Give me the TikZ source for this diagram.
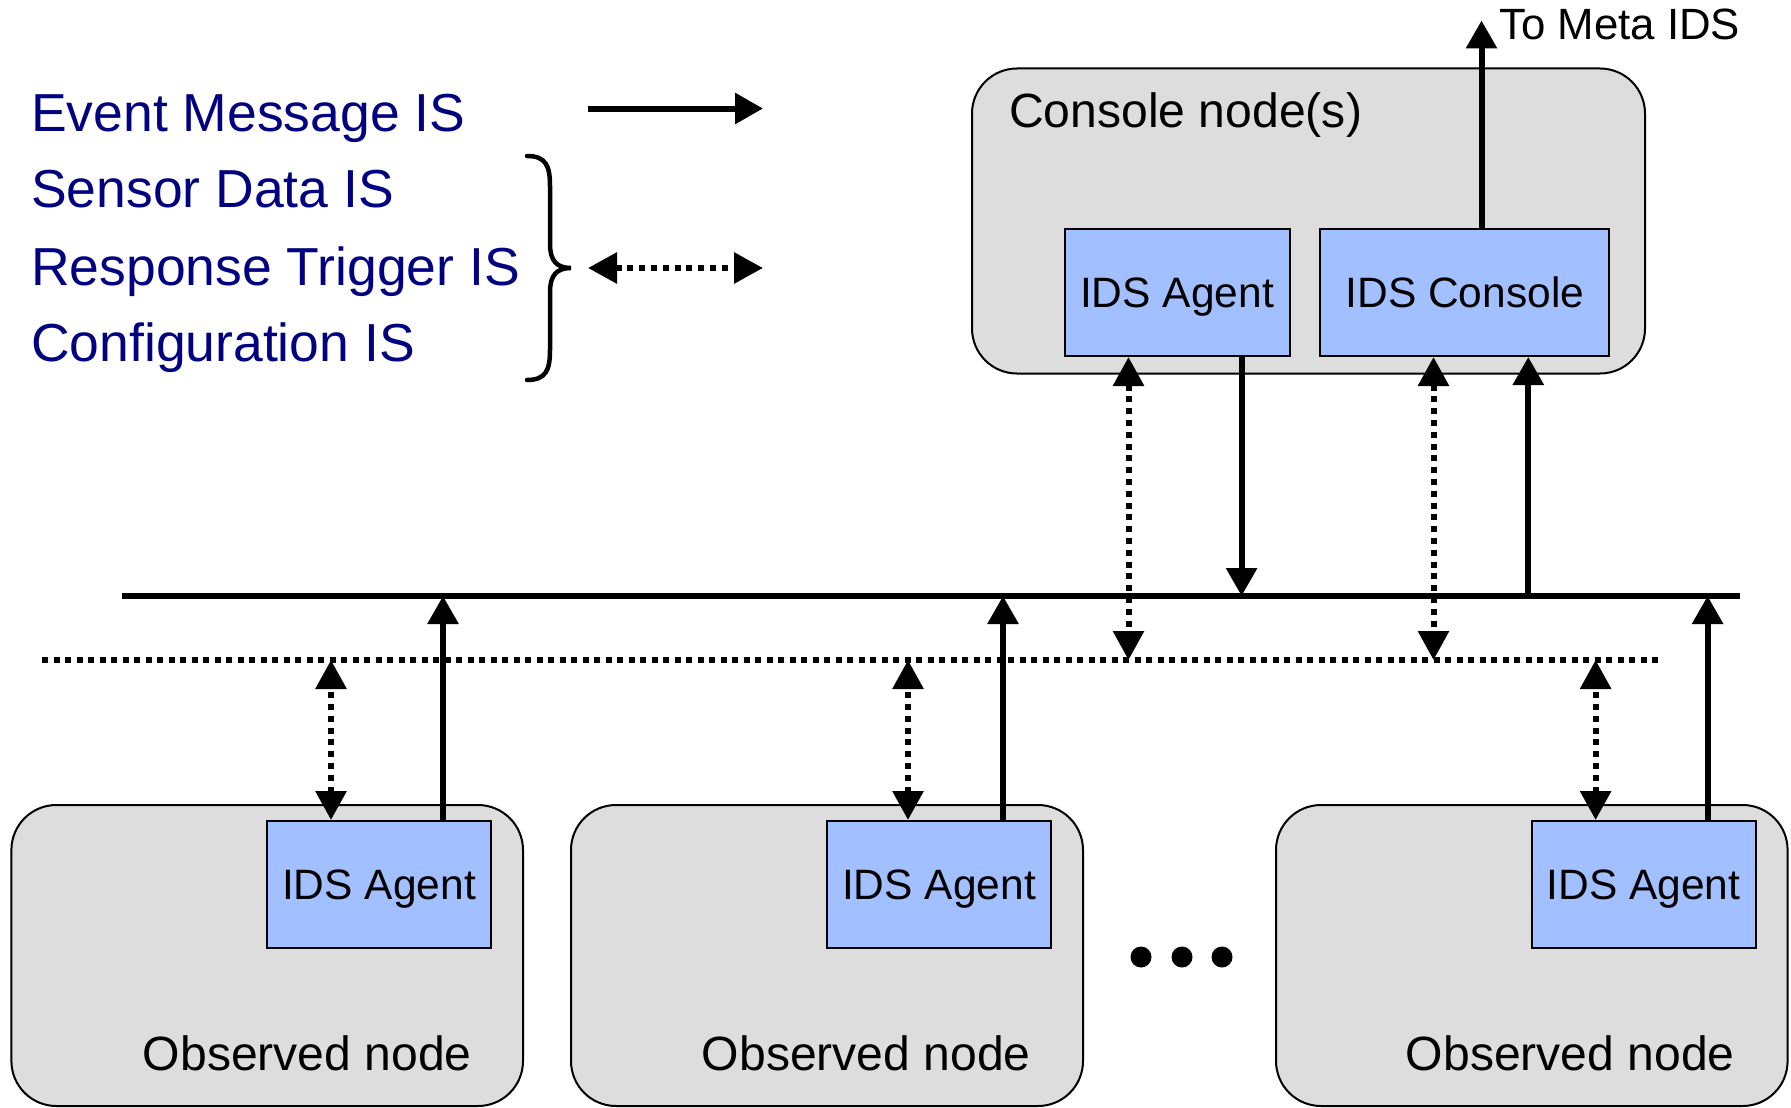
\documentclass[tikz,border=0pt]{standalone}
\usepackage{fontspec}
\setmainfont{Liberation Sans}
\usetikzlibrary{arrows.meta}
\definecolor{nodegray}{RGB}{221,221,221}
\definecolor{agentblue}{RGB}{162,192,255}
\definecolor{legendnavy}{RGB}{0,0,128}

\begin{document}
\begin{tikzpicture}[x=1pt,y=-1pt,
  hostbox/.style={draw=black, line width=2pt, fill=nodegray, rounded corners=45pt, inner sep=0pt},
  agentbox/.style={draw=black, line width=2pt, fill=agentblue, minimum height=127pt,
    inner sep=0pt, font=\fontsize{42.5}{48}\selectfont, text height=30.4pt, text depth=0pt},
  hostlabel/.style={inner sep=0pt, font=\fontsize{48.1}{54}\selectfont},
  legendtext/.style={inner sep=0pt, anchor=base west, text=legendnavy, font=\fontsize{53.5}{60}\selectfont},
  evt/.style={line width=6pt, -{Triangle[length=28pt,width=30pt]}},
  cfg/.style={line width=6pt, dash pattern=on 6pt off 5.8pt,
    {Triangle[length=29pt,width=30pt]}-{Triangle[length=29pt,width=30pt]}},
  busline/.style={line width=6pt},
  dotline/.style={line width=6pt, dash pattern=on 6pt off 5.5pt}]

\useasboundingbox (0,0) rectangle (1791,1108);

% ---- legend ----
\node[legendtext] (lgEvent)  at (31,131) {Event Message IS};
\node[legendtext] (lgSensor) at (31,207) {Sensor Data IS};
\node[legendtext] (lgResp)   at (31,285) {Response Trigger IS};
\node[legendtext] (lgConf)   at (31,361) {Configuration IS};

\coordinate (lgEvtA) at (588,108.5);
\coordinate (lgEvtB) at (763,108.5);
\coordinate (lgCfgA) at (588,268);
\coordinate (lgCfgB) at (763,268);
\draw[evt] (lgEvtA) -- (lgEvtB);
\draw[cfg] (lgCfgA) -- (lgCfgB);

% curly brace grouping the three bidirectional streams
\draw[line width=4.5pt, line cap=round]
  (527,156) .. controls (546,156) and (550,166) .. (550,186)
  -- (550,244) .. controls (550,261) and (557,268) .. (571,268)
  .. controls (557,268) and (550,275) .. (550,292)
  -- (550,350) .. controls (550,370) and (546,380) .. (527,380);

% ---- console node ----
\node[hostbox, minimum width=673pt, minimum height=305pt] (console) at (1308.5,221) {};
\node[hostlabel, anchor=base west] (consoleLabel) at (1009,127) {Console node(s)};
\node[agentbox, minimum width=225pt] (ca) at (1177,292.5) {IDS Agent};
\node[agentbox, minimum width=289pt] (cc) at (1464.9,292.5) {IDS Console};

\coordinate (metaTip) at (1481.5,20.5);
\node[inner sep=0pt, anchor=base west, font=\fontsize{43.8}{48}\selectfont] (meta) at (1499,40) {To Meta IDS};
\draw[evt] ([xshift=16.6pt]cc.north) -- (metaTip);

% ---- buses ----
\coordinate (busW) at (122,596);
\coordinate (busE) at (1740,596);
\coordinate (dotW) at (42,660);
\coordinate (dotE) at (1658.5,660);
\draw[busline] (busW) -- (busE);
\draw[dotline] (dotW) -- (dotE);

% ---- observed nodes ----
\node[hostbox, minimum width=511.6pt, minimum height=301pt] (obs1) at (267.2,955.5) {};
\node[hostbox, minimum width=512pt, minimum height=301pt] (obs2) at (827,955.5) {};
\node[hostbox, minimum width=511.6pt, minimum height=301pt] (obs3) at (1531.8,955.5) {};
\node[hostlabel, anchor=base east] (obs1Label) at (472,1070) {Observed node};
\node[hostlabel, anchor=base east] (obs2Label) at (1031,1070) {Observed node};
\node[hostlabel, anchor=base east] (obs3Label) at (1735,1070) {Observed node};

\node[agentbox, minimum width=224pt] (a1) at (379,884.5) {IDS Agent};
\node[agentbox, minimum width=224pt] (a2) at (939,884.5) {IDS Agent};
\node[agentbox, minimum width=224pt] (a3) at (1643.6,884.5) {IDS Agent};

% ellipsis between the second and third observed node
\fill (1141,957) circle[radius=10.5pt] (1182,957) circle[radius=10.5pt] (1222,957) circle[radius=10.5pt];

% ---- connectors: console node ----
\draw[cfg] ([xshift=-48.5pt]ca.south) -- ([xshift=-48.5pt]ca.south |- dotW);
\draw[evt] ([xshift=64.6pt]ca.south) -- ([xshift=64.6pt]ca.south |- busW);
\draw[cfg] ([xshift=-31.4pt]cc.south) -- ([xshift=-31.4pt]cc.south |- dotW);
\draw[evt] ([xshift=63.4pt]cc.south |- busW) -- ([xshift=63.4pt]cc.south);

% ---- connectors: observed nodes ----
\draw[cfg] ([xshift=-48pt]a1.north) -- ([xshift=-48pt]a1.north |- dotW);
\draw[evt] ([xshift=64pt]a1.north) -- ([xshift=64pt]a1.north |- busW);
\draw[cfg] ([xshift=-31pt]a2.north) -- ([xshift=-31pt]a2.north |- dotW);
\draw[evt] ([xshift=64pt]a2.north) -- ([xshift=64pt]a2.north |- busW);
\draw[cfg] ([xshift=-48pt]a3.north) -- ([xshift=-48pt]a3.north |- dotW);
\draw[evt] ([xshift=64pt]a3.north) -- ([xshift=64pt]a3.north |- busW);
\end{tikzpicture}
\end{document}
